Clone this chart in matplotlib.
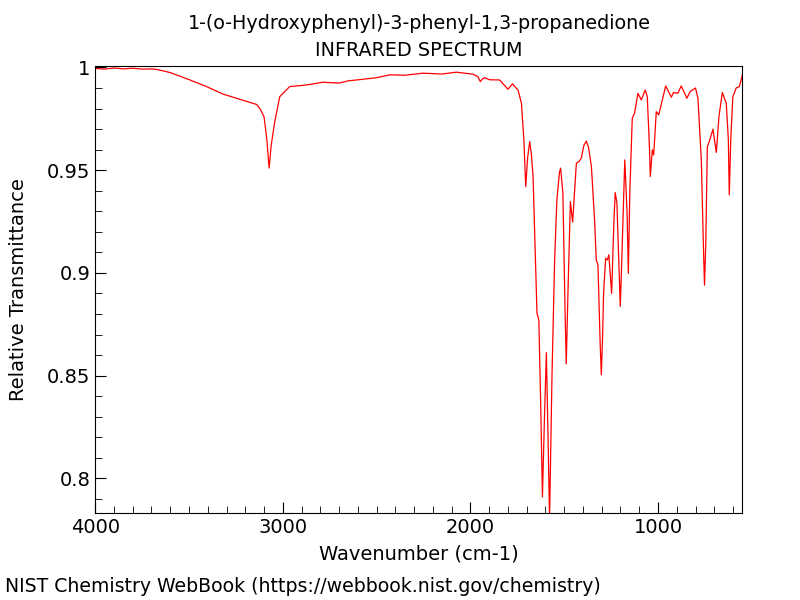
import matplotlib
matplotlib.use("Agg")
import matplotlib.pyplot as plt
from matplotlib.ticker import MultipleLocator

# points (wavenumber cm-1, transmittance)
wavenumber = [4000, 3950, 3900, 3850, 3800, 3750, 3700, 3670, 3600, 3495, 3407,
              3318, 3229, 3140, 3122, 3100, 3085, 3073, 3062, 3043, 3016, 2963,
              2900, 2850, 2787, 2700, 2650, 2607, 2500, 2430, 2350, 2254, 2150,
              2075, 1986, 1960, 1947, 1935, 1924, 1897, 1844, 1800, 1776,
              1746, 1728, 1715, 1705, 1695, 1684, 1675, 1666, 1645, 1635, 1625,
              1616, 1605, 1595, 1586, 1578, 1565, 1551, 1539, 1525, 1519, 1507,
              1495, 1489, 1480, 1467, 1455, 1435, 1421, 1409, 1395, 1382, 1370,
              1355, 1338, 1329, 1320, 1308, 1302, 1295, 1290, 1279, 1270, 1262,
              1247, 1235, 1228, 1219, 1205, 1201, 1195, 1177, 1165, 1158, 1150,
              1137, 1125, 1107, 1089, 1068, 1057, 1045, 1041, 1030, 1023, 1009,
              996, 959, 929, 917, 894, 876, 846, 828, 800, 787, 769, 757, 752,
              745, 737, 721, 707, 689, 675, 657, 636, 625, 620, 612, 601, 583,
              566, 550]
transmittance = [0.9995, 0.9992, 0.9997, 0.9993, 0.9996, 0.9992, 0.9993, 0.9990,
                 0.9975, 0.9939, 0.9907, 0.9870, 0.9845, 0.9820, 0.9800, 0.9760,
                 0.9650, 0.9510, 0.9620, 0.9736, 0.9858, 0.9907, 0.9912, 0.9918,
                 0.9928, 0.9924, 0.9935, 0.9939, 0.9950, 0.9964, 0.9962, 0.9972,
                 0.9968, 0.9977, 0.9967, 0.9955, 0.9931, 0.9945, 0.9950, 0.9940,
                 0.9939, 0.9894, 0.9920, 0.9890, 0.9826, 0.9650, 0.9420, 0.9560,
                 0.9639, 0.9580, 0.9470, 0.8804, 0.8770, 0.8350, 0.7910, 0.8300,
                 0.8612, 0.8200, 0.7800, 0.8500, 0.9060, 0.9355, 0.9490, 0.9510,
                 0.9390, 0.8800, 0.8557, 0.8900, 0.9347, 0.9247, 0.9534, 0.9542,
                 0.9558, 0.9620, 0.9642, 0.9610, 0.9518, 0.9258, 0.9063, 0.9039,
                 0.8650, 0.8504, 0.8700, 0.8900, 0.9071, 0.9063, 0.9088, 0.8900,
                 0.9250, 0.9391, 0.9340, 0.8950, 0.8837, 0.9000, 0.9550, 0.9300,
                 0.8998, 0.9400, 0.9753, 0.9777, 0.9874, 0.9842, 0.9890, 0.9858,
                 0.9600, 0.9469, 0.9599, 0.9574, 0.9785, 0.9769, 0.9910, 0.9855,
                 0.9878, 0.9874, 0.9910, 0.9850, 0.9883, 0.9900, 0.9850, 0.9550,
                 0.9100, 0.8940, 0.9150, 0.9614, 0.9655, 0.9700, 0.9586, 0.9761,
                 0.9878, 0.9826, 0.9650, 0.9380, 0.9650, 0.9858, 0.9900, 0.9907,
                 0.9964]

title_lines = ["1-(o-Hydroxyphenyl)-3-phenyl-1,3-propanedione", "INFRARED SPECTRUM"]
credit = "NIST Chemistry WebBook (https://webbook.nist.gov/chemistry)"

fig = plt.figure(figsize=(8, 6), dpi=100)
ax = fig.add_axes([0.119, 0.1445, 0.809, 0.7455])
ax.plot(wavenumber, transmittance, color="red", linewidth=0.9)

ax.set_xlim(4000, 550)
ax.set_ylim(0.783, 1.0007)
ax.xaxis.set_major_locator(MultipleLocator(1000))
ax.xaxis.set_minor_locator(MultipleLocator(100))
ax.yaxis.set_minor_locator(MultipleLocator(0.01))
ax.set_yticks([0.8, 0.85, 0.9, 0.95, 1.0])
ax.set_yticklabels(["0.8", "0.85", "0.9", "0.95", "1"])
ax.tick_params(which="both", direction="in", top=False, right=False, labelsize=14)
ax.tick_params(which="major", length=8)
ax.tick_params(which="minor", length=5)

ax.set_xlabel("Wavenumber (cm-1)", fontsize=14, labelpad=5)
ax.set_ylabel("Relative Transmittance", fontsize=14)
ax.yaxis.set_label_coords(-0.104, 0.5)
fig.text(0.524, 0.961, title_lines[0], ha="center", va="center", fontsize=13.8)
fig.text(0.524, 0.916, title_lines[1], ha="center", va="center", fontsize=13.8)
fig.text(0.006, 0.022, credit, ha="left", va="center", fontsize=13.6)

fig.savefig("out.png", dpi=100)
